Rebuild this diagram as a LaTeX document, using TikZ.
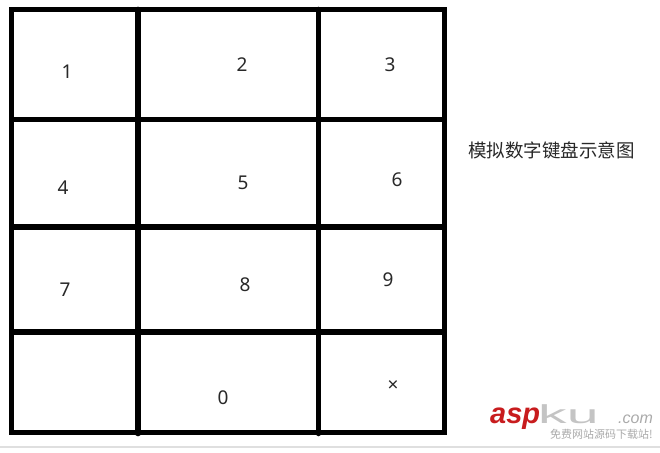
\documentclass[tikz,border=0pt]{standalone}
\usepackage{fontspec}
\setmainfont{Noto Sans}
\newfontfamily\cjk{Noto Sans CJK SC}
\newfontfamily\wmfont{Liberation Sans}
\definecolor{keygray}{RGB}{40,40,40}
\definecolor{wmred}{RGB}{200,28,30}
\definecolor{wmgray}{RGB}{170,170,170}
\begin{document}
\begin{tikzpicture}[x=1pt,y=-1pt,
  gridline/.style={line width=5.6pt, black},
  keylabel/.style={font=\fontsize{19}{19}\selectfont, text=keygray, inner sep=0pt},
  caption/.style={font=\cjk\fontsize{18.5}{18.5}\selectfont, text=keygray, inner sep=0pt}]
\useasboundingbox (0,0) rectangle (660,452);
\fill[white] (0,0) rectangle (660,452);
% watermark separator
\draw[gray!25, line width=1.3pt] (0,447) -- (660,447);
% grid
\coordinate (tl) at (11.5,9.5);
\coordinate (br) at (444.5,432.5);
\draw[gridline] (tl) rectangle (br);
\draw[gridline] (11.5,119.5) -- (444.5,119.5);
\draw[gridline] (11.5,227) -- (444.5,227);
\draw[gridline] (11.5,332) -- (444.5,332);
\draw[gridline, line cap=round] (138,9.5) -- (138,433.5);
\draw[gridline, line cap=round] (318.5,9.5) -- (318.5,433.5);
% keys
\node[keylabel] (k1) at (67,72) {1};
\node[keylabel] (k2) at (242,65) {2};
\node[keylabel] (k3) at (390,65) {3};
\node[keylabel] (k4) at (63,188) {4};
\node[keylabel] (k5) at (243,183) {5};
\node[keylabel] (k6) at (397,180) {6};
\node[keylabel] (k7) at (65,290) {7};
\node[keylabel] (k8) at (245,285) {8};
\node[keylabel] (k9) at (388,280) {9};
\node[keylabel] (k0) at (223,398) {0};
\node[keylabel] (kx) at (393,386) {×};
% caption
\node[caption] (cap) at (551.5,150) {模拟数字键盘示意图};
% watermark
\node[anchor=base west, inner sep=0pt, text=wmred, font=\wmfont\bfseries\itshape\fontsize{29}{29}\selectfont] (wmasp) at (490,423) {asp};
\node[anchor=base west, inner sep=0pt, text=wmgray!70, font=\wmfont\fontsize{26}{26}\selectfont] (wmku) at (538,423) {\scalebox{2.2}[1]{ku}};
\node[anchor=base west, inner sep=0pt, text=wmgray, font=\wmfont\itshape\fontsize{16}{16}\selectfont] (wmcom) at (618,423) {.com};
\node[anchor=west, inner sep=0pt, text=wmgray, font=\cjk\fontsize{11}{11}\selectfont] (wmsub) at (550,434) {免费网站源码下载站!};
\end{tikzpicture}
\end{document}
